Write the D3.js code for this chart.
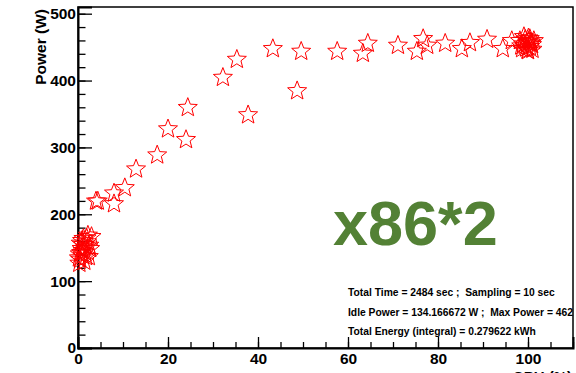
<!DOCTYPE html>
<html>
<head>
<meta charset="utf-8">
<script src="https://cdn.jsdelivr.net/npm/d3@7"></script>
<style>
  body { margin: 0; background: #fff; }
  svg { display: block; font-family: "Liberation Sans", Arial, sans-serif; font-weight: bold; }
</style>
</head>
<body>
<div id="chart"></div>
<script>
// CPU load (%) vs measured power (W)
const cpuLoad = [0.5, 1, 0.8, 1.5, 2, 1.2, 0.3, 2.5, 1.8, 0.6, 2.2, 1, 3, 0.4, 1.6,
  0.2, 0.9, 1.4, 2.7, 0.7, 1.9, 1.1, 2.4,
  4, 4.4, 8, 8, 10.4, 12.9, 17.6, 20, 24, 24.4, 32.2, 35.3, 37.8, 43.3, 48.7, 49.6,
  57.6, 64.4, 63.3, 71.1, 75.3, 76.7, 77.6, 81.6, 85.3, 87.1, 90.9, 94.4, 96.4,
  98.2, 99.3, 100.4, 100, 100.9, 98.7, 99.8, 100.4, 99.1, 101.3,
  99.6, 100.2, 98.9, 101, 99.4, 100.7, 99.9, 100.1, 98.5, 100.6];
const power = [134, 140, 150, 145, 160, 165, 128, 155, 138, 158, 170, 147, 168, 142, 152,
  136, 162, 131, 150, 144, 166, 156, 138,
  221, 221, 217, 233, 241, 269, 290, 329, 313, 361, 406, 433, 350, 449, 386, 445,
  445, 457, 442, 454, 445, 464, 454, 457, 449, 458, 463, 449, 461,
  461, 454, 464, 446, 455, 449, 458, 452, 467, 461,
  450, 460, 456, 448, 463, 457, 447, 465, 453, 459];
const infoLines = [
  "Total Time = 2484 sec ;  Sampling = 10 sec",
  "Idle Power = 134.166672 W ;  Max Power = 462",
  "Total Energy (integral) = 0.279622 kWh"
];
const tag = "x86*2";

const width = 576, height = 373;
const margin = { top: 7, right: 3, bottom: 25, left: 78 };

const svg = d3.select('#chart').append('svg')
  .attr('width', width)
  .attr('height', height);

const x = d3.scaleLinear().domain([0, 110]).range([margin.left, width - margin.right]);
const y = d3.scaleLinear().domain([0, 510]).range([height - margin.bottom, margin.top]);

// frame
svg.append('rect')
  .attr('x', x(0)).attr('y', y(510))
  .attr('width', x(110) - x(0)).attr('height', y(0) - y(510))
  .attr('fill', 'none').attr('stroke', '#000').attr('stroke-width', 1.5);

// minor ticks
svg.append('g')
  .attr('transform', `translate(0,${y(0)})`)
  .call(d3.axisBottom(x).tickValues(d3.range(0, 111, 5)).tickSize(-6).tickFormat(''))
  .call(g => g.select('.domain').remove());
svg.append('g')
  .attr('transform', `translate(${x(0)},0)`)
  .call(d3.axisLeft(y).tickValues(d3.range(0, 510, 20)).tickSize(-7.5).tickFormat(''))
  .call(g => g.select('.domain').remove());

// major ticks + labels
const xAxis = svg.append('g')
  .attr('transform', `translate(0,${y(0)})`)
  .call(d3.axisBottom(x).tickValues([0, 20, 40, 60, 80, 100]).tickSize(-11).tickPadding(5));
const yAxis = svg.append('g')
  .attr('transform', `translate(${x(0)},0)`)
  .call(d3.axisLeft(y).tickValues([0, 100, 200, 300, 400, 500]).tickSize(-14).tickPadding(2));

[xAxis, yAxis].forEach(ax => {
  ax.select('.domain').attr('stroke-width', 2);
  ax.selectAll('text')
    .style('font-size', '15.5px')
    .style('font-weight', 'bold')
    .style('font-family', '"Liberation Sans", Arial, sans-serif')
    .attr('fill', '#000');
});
svg.selectAll('.tick line').attr('stroke', '#000').attr('stroke-width', 1.3);

// axis titles
svg.append('text')
  .attr('transform', `translate(46,9) rotate(-90)`)
  .attr('text-anchor', 'end')
  .style('font-size', '15.5px')
  .text('Power (W)');
svg.append('text')
  .attr('x', width - 4).attr('y', 382)
  .attr('text-anchor', 'end')
  .style('font-size', '15px')
  .text('CPU (%)');

// star markers
const R = 10, r = 4.3;
const starPath = d3.range(10).map(i => {
  const a = -Math.PI / 2 + i * Math.PI / 5;
  const rad = i % 2 === 0 ? R : r;
  return [rad * Math.cos(a), rad * Math.sin(a)];
});
const starD = 'M' + starPath.map(p => p.join(',')).join('L') + 'Z';

svg.append('g')
  .selectAll('path')
  .data(cpuLoad.map((c, i) => ({ c, p: power[i] })))
  .enter()
  .append('path')
  .attr('d', starD)
  .attr('transform', d => `translate(${x(d.c)},${y(d.p) + 1})`)
  .attr('fill', 'none')
  .attr('stroke', '#ff0000')
  .attr('stroke-width', 1);

// label
svg.append('text')
  .attr('x', 333).attr('y', 245)
  .attr('fill', '#538135')
  .style('font-size', '63px')
  .text(tag);

// info box text
svg.append('g')
  .selectAll('text')
  .data(infoLines)
  .enter()
  .append('text')
  .attr('x', 348)
  .attr('y', (d, i) => 296 + i * 19.5)
  .style('font-size', '10.3px')
  .style('white-space', 'pre')
  .text(d => d);
</script>
</body>
</html>
